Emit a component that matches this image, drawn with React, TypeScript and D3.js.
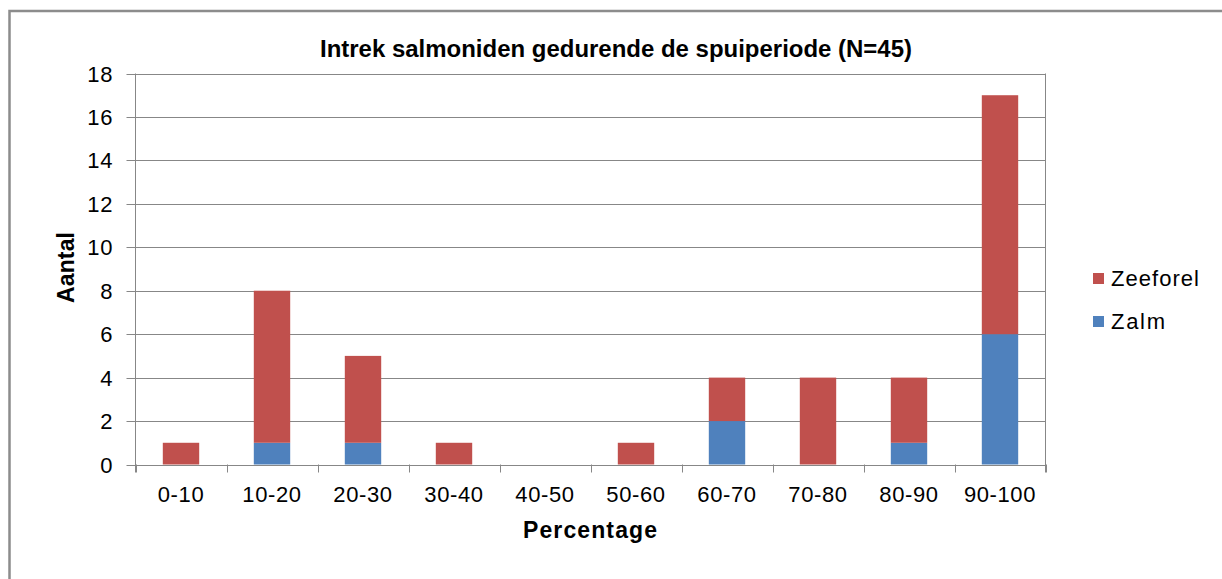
import React, { useEffect, useRef } from "react";
import * as d3 from "d3";

const categories = ["0-10", "10-20", "20-30", "30-40", "40-50", "50-60", "60-70", "70-80", "80-90", "90-100"];
const zalm = [0, 1, 1, 0, 0, 0, 2, 0, 1, 6];
const zeeforel = [1, 7, 4, 1, 0, 1, 2, 4, 3, 11];
const yTicks = [0, 2, 4, 6, 8, 10, 12, 14, 16, 18];
const seriesNames = ["Zalm", "Zeeforel"];
const colors = ["#4F81BD", "#C0504D"];
const title = "Intrek salmoniden gedurende de spuiperiode (N=45)";

export default function App() {
  const ref = useRef<SVGSVGElement>(null);
  useEffect(() => {
    const svg = d3.select(ref.current);
    svg.selectAll("*").remove();
    const W = 1222, H = 579;
    const left = 135.5, right = 1045.5, top = 73.5, bottom = 464.5;
    const font = "'Liberation Sans', Arial, sans-serif";
    const grid = "#878787";

    svg.append("rect").attr("x", 0).attr("y", 0).attr("width", W).attr("height", H).attr("fill", "#fff");
    svg.append("rect").attr("x", 9.5).attr("y", 11).attr("width", 1300).attr("height", 700)
      .attr("fill", "none").attr("stroke", "#8c8c8c").attr("stroke-width", 2.5);

    const x = d3.scaleBand<string>().domain(categories).range([left, right]).paddingInner(0.6).paddingOuter(0.3);
    const y = d3.scaleLinear().domain([0, 18]).range([bottom, top]);

    svg.append("g").selectAll("line").data(yTicks).join("line")
      .attr("x1", left - 9).attr("x2", right)
      .attr("y1", d => Math.round(y(d)) + 0.5).attr("y2", d => Math.round(y(d)) + 0.5)
      .attr("stroke", grid).attr("stroke-width", 1);

    svg.append("line").attr("x1", right).attr("x2", right).attr("y1", top).attr("y2", bottom + 8)
      .attr("stroke", grid);
    svg.append("line").attr("x1", left).attr("x2", left).attr("y1", top).attr("y2", bottom + 8)
      .attr("stroke", grid);

    const step = (right - left) / categories.length;
    const bounds = d3.range(categories.length + 1).map(i => left + i * step);
    svg.append("g").selectAll("line").data(bounds).join("line")
      .attr("x1", d => Math.round(d) + 0.5).attr("x2", d => Math.round(d) + 0.5)
      .attr("y1", bottom).attr("y2", bottom + 8).attr("stroke", grid);

    const data = categories.map((c, i) => ({ cat: c, Zalm: zalm[i], Zeeforel: zeeforel[i] }));
    const stack = d3.stack<any>().keys(seriesNames)(data);
    stack.forEach((layer, si) => {
      svg.append("g").selectAll("rect").data(layer.filter(d => d[1] > d[0])).join("rect")
        .attr("x", d => x(d.data.cat)!)
        .attr("width", x.bandwidth())
        .attr("y", d => y(d[1]))
        .attr("height", d => y(d[0]) - y(d[1]))
        .attr("fill", colors[si]);
    });

    svg.append("g").selectAll("text").data(yTicks).join("text")
      .attr("x", 113).attr("y", d => y(d) + 8)
      .attr("text-anchor", "end").attr("font-family", font).attr("font-size", 22)
      .attr("letter-spacing", 0.6).attr("fill", "#000")
      .text(d => d);

    svg.append("g").selectAll("text").data(categories).join("text")
      .attr("x", d => x(d)! + x.bandwidth() / 2).attr("y", 502)
      .attr("text-anchor", "middle").attr("font-family", font).attr("font-size", 22)
      .attr("letter-spacing", 0.6).attr("fill", "#000")
      .text(d => d);

    svg.append("text").attr("x", 320).attr("y", 57)
      .attr("font-family", font).attr("font-size", 23).attr("font-weight", "bold")
      .attr("textLength", 592).attr("lengthAdjust", "spacingAndGlyphs").text(title);

    svg.append("text").attr("x", 523).attr("y", 538)
      .attr("font-family", font).attr("font-size", 23).attr("font-weight", "bold")
      .attr("textLength", 134).attr("lengthAdjust", "spacing").text("Percentage");

    svg.append("text").attr("transform", "translate(74,303) rotate(-90)")
      .attr("font-family", font).attr("font-size", 23).attr("font-weight", "bold")
      .attr("textLength", 71).attr("lengthAdjust", "spacing").text("Aantal");

    const legend = [
      { name: "Zeeforel", color: colors[1], y: 273, w: 88 },
      { name: "Zalm", color: colors[0], y: 316, w: 54 },
    ];
    const lg = svg.append("g").selectAll("g").data(legend).join("g");
    lg.append("rect").attr("x", 1093).attr("y", d => d.y).attr("width", 11).attr("height", 11).attr("fill", d => d.color);
    lg.append("text").attr("x", 1111).attr("y", d => d.y + 13).attr("font-family", font).attr("font-size", 22)
      .attr("textLength", d => d.w).attr("lengthAdjust", "spacing")
      .text(d => d.name);
  }, []);
  return (
    <svg ref={ref} width={1222} height={579} style={{ position: "absolute", left: 0, top: 0, display: "block" }} />
  );
}
